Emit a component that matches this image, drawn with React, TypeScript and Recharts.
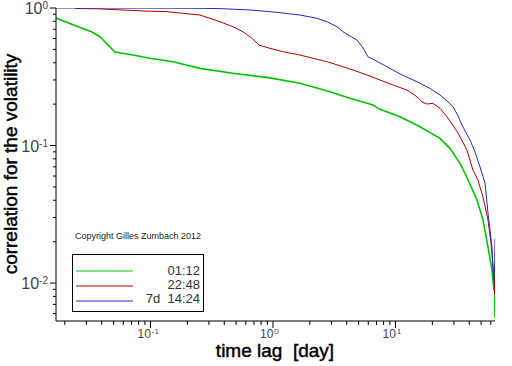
import React from "react";
import { LineChart, Line, XAxis, YAxis } from "recharts";

// ---- data ----
const seriesNames = ["01:12", "22:48", "7d  14:24"];
const seriesColors = ["#00c400", "#b00000", "#2828c0"];

const lagShort = [0.0169, 0.0333, 0.0387, 0.0513, 0.072, 0.099, 0.1527, 0.2535, 0.4716, 0.893, 1.66, 2.92, 4.25, 6.55, 7.47, 10.9, 15.85, 23.1, 27.8, 33.6, 38.1, 46.3, 51.8, 56.9, 61.3, 63.7, 64.3, 64.6, 64.9];
const corrShort = [0.846, 0.669, 0.618, 0.479, 0.455, 0.431, 0.407, 0.364, 0.335, 0.313, 0.2834, 0.246, 0.2205, 0.197, 0.1834, 0.162, 0.137, 0.1128, 0.0954, 0.0742, 0.0593, 0.0401, 0.0287, 0.0183, 0.01245, 0.0089, 0.0105, 0.0068, 0.0056];

const lagDay = [0.0242, 0.0387, 0.0596, 0.0902, 0.1364, 0.2535, 0.369, 0.4716, 0.569, 0.674, 0.769, 0.945, 1.207, 1.66, 2.76, 3.52, 4.5, 5.85, 7.47, 9.55, 12.4, 14.98, 16.45, 18.07, 20.2, 23.1, 26.8, 32.4, 38.3, 42.9, 47.1, 51.8, 56.9, 60.2, 63.7, 64.3, 64.9];
const corrDay = [0.992, 0.985, 0.967, 0.951, 0.94, 0.889, 0.795, 0.731, 0.672, 0.602, 0.538, 0.509, 0.481, 0.455, 0.407, 0.3805, 0.354, 0.326, 0.2995, 0.2754, 0.2533, 0.2264, 0.208, 0.2004, 0.2027, 0.1865, 0.1585, 0.1233, 0.0927, 0.0664, 0.0561, 0.0422, 0.0287, 0.0195, 0.0111, 0.0082, 0.0135];

const lagWeek = [0.0169, 0.0902, 0.2535, 0.369, 0.649, 1.078, 1.66, 2.29, 2.76, 3.33, 3.73, 4.25, 4.85, 5.43, 5.96, 6.55, 8.52, 10.9, 14.98, 19.1, 23.1, 26.8, 29.5, 32.4, 34.9, 40.6, 44.6, 49.0, 53.8, 56.9, 61.3, 62.5, 63.7, 64.3, 64.9];
const corrWeek = [1.0, 0.998, 0.995, 0.99, 0.967, 0.93, 0.889, 0.841, 0.795, 0.731, 0.672, 0.626, 0.585, 0.512, 0.442, 0.424, 0.374, 0.331, 0.291, 0.2606, 0.233, 0.208, 0.1915, 0.164, 0.141, 0.1096, 0.0897, 0.0698, 0.0534, 0.0323, 0.0183, 0.01245, 0.0105, 0.0115, 0.021];

const xTicks = [0.02, 0.03, 0.04, 0.05, 0.06, 0.07, 0.08, 0.09, 0.1, 0.2, 0.3, 0.4, 0.5, 0.6, 0.7, 0.8, 0.9, 1, 2, 3, 4, 5, 6, 7, 8, 9, 10, 20, 30, 40, 50, 60];
const yTicks = [0.006, 0.007, 0.008, 0.009, 0.01, 0.02, 0.03, 0.04, 0.05, 0.06, 0.07, 0.08, 0.09, 0.1, 0.2, 0.3, 0.4, 0.5, 0.6, 0.7, 0.8, 0.9, 1];

const xDomain = [0.01694, 64.9];
const yDomain = [0.0053, 1];

const xTitle = "time lag  [day]";
const yTitle = "correlation for the volatility";
const copyright = "Copyright Gilles Zumbach 2012";

const toPoints = (xs: number[], ys: number[]) => xs.map((x, i) => ({ x, y: ys[i] }));
const seriesData = [toPoints(lagShort, corrShort), toPoints(lagDay, corrDay), toPoints(lagWeek, corrWeek)];

const FONT = "'Liberation Sans', Arial, Helvetica, sans-serif";

const isMajor = (v: number) => Math.abs(Math.log10(v) - Math.round(Math.log10(v))) < 1e-6;

const XTick = (props: any) => {
  const { x, y, payload } = props;
  const v = payload.value;
  const major = isMajor(v);
  const exp = Math.round(Math.log10(v));
  return (
    <g>
      <line x1={x} x2={x} y1={y} y2={y + (major ? 7 : 4)} stroke="#000" strokeWidth={1} />
      {major && (
        <text x={x - 13} y={y + 17} fontFamily={FONT} fill="#444" fontSize={12} textAnchor="start">
          <tspan>10</tspan>
          <tspan fontSize={8} dx={1} dy={-4}>{String(exp)}</tspan>
        </text>
      )}
    </g>
  );
};

const YTick = (props: any) => {
  const { x, y, payload } = props;
  const v = payload.value;
  const major = isMajor(v);
  const exp = Math.round(Math.log10(v));
  return (
    <g>
      <line x1={x} x2={x - (major ? 6 : 3)} y1={y} y2={y} stroke="#000" strokeWidth={1} />
      {major && (
        <text x={x - 8} y={y + 6} fontFamily={FONT} fill="#444" fontSize={16} textAnchor="end">
          <tspan>10</tspan>
          <tspan fontSize={10} dy={-5}>{String(exp)}</tspan>
        </text>
      )}
    </g>
  );
};

export default function App() {
  return (
    <div style={{ position: "absolute", left: 0, top: 0, width: 512, height: 366, background: "#fff" }}>
      <LineChart width={512} height={366} margin={{ top: 8, right: 17, left: 0, bottom: 0 }}>
        <XAxis
          type="number"
          dataKey="x"
          scale="log"
          domain={xDomain}
          allowDataOverflow
          ticks={xTicks}
          interval={0}
          tick={<XTick />}
          tickLine={false}
          tickSize={0}
          tickMargin={0}
          height={45}
          axisLine={{ stroke: "#000", strokeWidth: 1 }}
        />
        <YAxis
          type="number"
          dataKey="y"
          scale="log"
          domain={yDomain}
          allowDataOverflow
          ticks={yTicks}
          interval={0}
          tick={<YTick />}
          tickLine={false}
          tickSize={0}
          tickMargin={0}
          width={56}
          axisLine={{ stroke: "#000", strokeWidth: 1 }}
        />
        {seriesData.map((d, i) => (
          <Line
            key={seriesNames[i]}
            data={d}
            dataKey="y"
            type="linear"
            stroke={seriesColors[i]}
            strokeWidth={i === 0 ? 1.6 : 1}
            dot={false}
            activeDot={false}
            isAnimationActive={false}
          />
        ))}
      </LineChart>
      <svg
        width={512}
        height={366}
        style={{ position: "absolute", left: 0, top: 0, pointerEvents: "none" }}
        fontFamily={FONT}
      >
        <text
          x={17}
          y={164}
          fontSize={19}
          fill="#000"
          stroke="#000"
          strokeWidth={0.45}
          textAnchor="middle"
          transform="rotate(-90 17 164)"
        >
          {yTitle}
        </text>
        <text
          x={275}
          y={357}
          fontSize={19}
          fill="#000"
          stroke="#000"
          strokeWidth={0.45}
          textAnchor="middle"
          style={{ whiteSpace: "pre" }}
        >
          {xTitle}
        </text>
        <text x={75} y={238.5} fontSize={9} fill="#222">
          {copyright}
        </text>
        <rect x={72.5} y={254.5} width={131} height={57} fill="#fff" stroke="#000" strokeWidth={1} />
        {seriesNames.map((name, i) => (
          <g key={name}>
            <line x1={76} x2={133} y1={271 + i * 15} y2={271 + i * 15} stroke={seriesColors[i]} strokeWidth={1} />
            <text x={200} y={275 + i * 14} fontSize={13} fill="#333" textAnchor="end" style={{ whiteSpace: "pre" }}>
              {name}
            </text>
          </g>
        ))}
      </svg>
    </div>
  );
}
